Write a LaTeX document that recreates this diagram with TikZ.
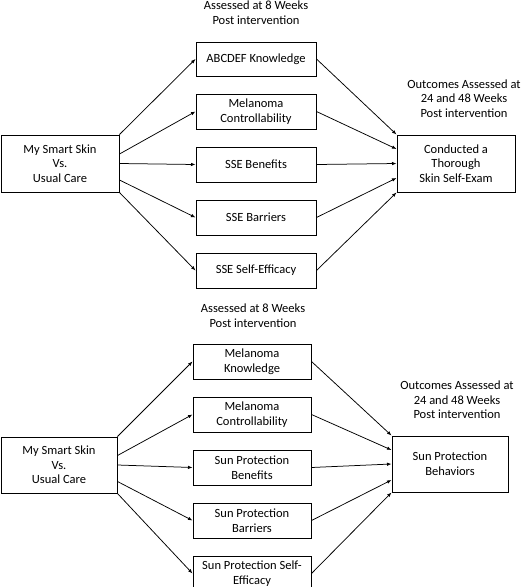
\documentclass[tikz,border=0pt]{standalone}
\usepackage{fontspec}
\setmainfont{Carlito}
\usetikzlibrary{
  arrows.meta,
  positioning}

\begin{document}
\begin{tikzpicture}[x=1pt,y=-1pt]
  \tikzset{side box/.style={draw,rectangle,color=black,line width=1pt,
                            minimum width=118pt,minimum height=57pt,
                            align=center,font=\fontsize{12.5}{14.6}\selectfont},
           mid box/.style={draw,rectangle,color=black,line width=1pt,
                           minimum width=120pt,minimum height=35pt,
                           align=center,font=\fontsize{12.5}{14.6}\selectfont},
           note/.style={align=center,font=\fontsize{12.5}{14.6}\selectfont},
           flow/.style={-{Latex[length=4.5pt,width=3.5pt]},line width=0.75pt}
           }
  \useasboundingbox (0,0) rectangle (520,587);

%%%%%%%%%%%%%%%%%%%%%%%%%%%%%%%%%%%%%%%%%%%%%%%%%%%%%%%%%%%%%%%%%%%%%%%%%%%%%%

%%\draw [step=10,thin,gray!25] (0,0) grid (520,587);

%%%%%%%%%%%%%%%%%%%%%%%%%%%%%%%%%%%%%%%%%%%%%%%%%%%%%%%%%%%%%%%%%%%%%%%%%%%%%%

\node[note] (H1) at (256,13) {Assessed at 8 Weeks\\Post intervention};

\node[note] (O1) at (464,98.5) {Outcomes Assessed at\\24 and 48 Weeks\\Post intervention};

\node[side box] (MSS1) at (60,163.5) {My Smart Skin\\Vs.\\Usual Care};

\node[side box] (TSE) at (456,163.5) {Conducted a\\Thorough\\Skin Self-Exam};

\node[mid box,minimum height=34pt] (ABK) at (256,59) {ABCDEF Knowledge};

\node[mid box,below=17pt of ABK] (MC1) {Melanoma\\Controllability};

\node[mid box,below=17pt of MC1] (SSEB) {SSE Benefits};

\node[mid box,below=17pt of SSEB] (SSEBR) {SSE Barriers};

\node[mid box,below=17pt of SSEBR] (SSEE) {SSE Self-Efficacy};

%%%%%%%%%%%%%%%%%%%%%%%%%%%%%%%%%%%%%%%%%%%%%%%%%%%%%%%%%%%%%%%%%%%%%%%%%%%%%%
\draw[flow]  (MSS1.north east) -- (ABK.west);
\draw[flow]  ([yshift=9.5pt]MSS1.east) -- (MC1.west);
\draw[flow]  (MSS1.east) -- (SSEB.west);
\draw[flow]  ([yshift=-16.5pt]MSS1.east) -- (SSEBR.west);
\draw[flow]  (MSS1.south east) -- (SSEE.west);

\draw[flow]  (ABK.east) -- (TSE.north west);
\draw[flow]  (MC1.east) -- ([yshift=14.5pt]TSE.west);
\draw[flow]  (SSEB.east) -- (TSE.west);
\draw[flow]  (SSEBR.east) -- ([yshift=-14.5pt]TSE.west);
\draw[flow]  (SSEE.east) -- (TSE.south west);

%%%%%%%%%%%%%%%%%%%%%%%%%%%%%%%%%%%%%%%%%%%%%%%%%%%%%%%%%%%%%%%%%%%%%%%%%%%%%%

\node[note] (H2) at (253,315.5) {Assessed at 8 Weeks\\Post intervention};

\node[note] (O2) at (457,400) {Outcomes Assessed at\\24 and 48 Weeks\\Post intervention};

\node[side box,minimum width=116pt,minimum height=56pt] (MSS2) at (59,465) {My Smart Skin\\Vs.\\Usual Care};

\node[side box,minimum width=116pt,minimum height=56pt] (SPB) at (450,464) {Sun Protection\\Behaviors};

\node[mid box,minimum width=118pt] (MK) at (252,361.5) {Melanoma\\Knowledge};

\node[mid box,minimum width=118pt,below=17pt of MK] (MC2) {Melanoma\\Controllability};

\node[mid box,minimum width=118pt,below=17pt of MC2] (SPBN) {Sun Protection\\Benefits};

\node[mid box,minimum width=118pt,below=17pt of SPBN] (SPBR) {Sun Protection\\Barriers};

\node[mid box,minimum width=118pt,below=17pt of SPBR] (SPE) {Sun Protection Self-\\Efficacy};

%%%%%%%%%%%%%%%%%%%%%%%%%%%%%%%%%%%%%%%%%%%%%%%%%%%%%%%%%%%%%%%%%%%%%%%%%%%%%%
\draw[flow]  (MSS2.north east) -- (MK.west);
\draw[flow]  ([yshift=9.5pt]MSS2.east) -- (MC2.west);
\draw[flow]  (MSS2.east) -- (SPBN.west);
\draw[flow]  ([yshift=-16.5pt]MSS2.east) -- (SPBR.west);
\draw[flow]  (MSS2.south east) -- (SPE.west);

\draw[flow]  (MK.east) -- (SPB.north west);
\draw[flow]  (MC2.east) -- ([yshift=14pt]SPB.west);
\draw[flow]  (SPBN.east) -- (SPB.west);
\draw[flow]  (SPBR.east) -- ([yshift=-16pt]SPB.west);
\draw[flow]  (SPE.east) -- (SPB.south west);

%%%%%%%%%%%%%%%%%%%%%%%%%%%%%%%%%%%%%%%%%%%%%%%%%%%%%%%%%%%%%%%%%%%%%%%%%%%%%%

\end{tikzpicture}
\end{document}
